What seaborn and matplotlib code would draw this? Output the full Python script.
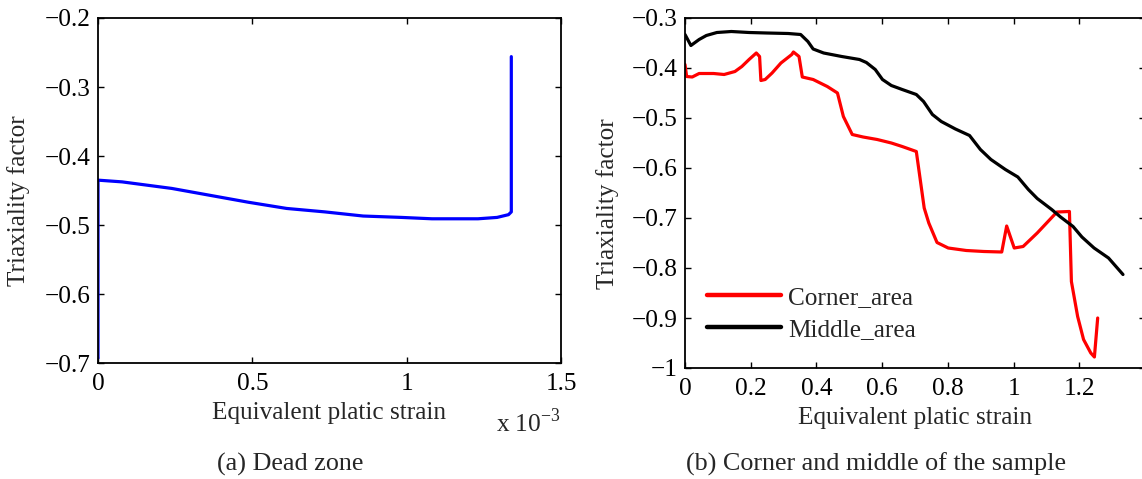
import matplotlib
matplotlib.use("Agg")
import matplotlib.pyplot as plt
from matplotlib.ticker import FuncFormatter, MultipleLocator, FixedLocator
import pandas as pd
import seaborn as sns

# (a) Dead zone -- strain in units of 1e-3
dead_strain = [0.0, 0.0, 0.078, 0.239, 0.363, 0.487, 0.611, 0.735, 0.859,
               0.983, 1.082, 1.231, 1.293, 1.330, 1.339, 1.339]
dead_triax = [-0.693, -0.435, -0.4375, -0.447, -0.457, -0.467, -0.476, -0.481,
              -0.487, -0.489, -0.491, -0.491, -0.489, -0.485, -0.481, -0.256]

# (b) Corner and middle of the sample
corner_strain = [0.0, 0.005, 0.022, 0.043, 0.087, 0.119, 0.152, 0.173, 0.195,
                 0.217, 0.227, 0.231, 0.244, 0.265, 0.292, 0.325, 0.330, 0.347,
                 0.357, 0.390, 0.433, 0.464, 0.482, 0.509, 0.542, 0.585, 0.628,
                 0.661, 0.704, 0.728, 0.742, 0.767, 0.801, 0.856, 0.910, 0.964,
                 0.979, 1.002, 1.029, 1.072, 1.132, 1.170, 1.176, 1.195, 1.213,
                 1.235, 1.246, 1.256]
corner_triax = [-0.393, -0.417, -0.418, -0.411, -0.411, -0.413, -0.407, -0.397,
                -0.383, -0.370, -0.377, -0.425, -0.423, -0.410, -0.390, -0.373,
                -0.368, -0.377, -0.418, -0.423, -0.437, -0.450, -0.497, -0.533,
                -0.538, -0.543, -0.550, -0.557, -0.567, -0.680, -0.710, -0.749,
                -0.760, -0.765, -0.767, -0.768, -0.716, -0.760, -0.757, -0.730,
                -0.688, -0.687, -0.827, -0.897, -0.943, -0.970, -0.978, -0.900]

middle_strain = [0.0, 0.018, 0.043, 0.065, 0.097, 0.141, 0.195, 0.249, 0.314,
                 0.352, 0.374, 0.390, 0.422, 0.477, 0.531, 0.552, 0.579, 0.601,
                 0.628, 0.661, 0.704, 0.726, 0.753, 0.780, 0.823, 0.866, 0.899,
                 0.931, 0.975, 1.013, 1.045, 1.072, 1.116, 1.143, 1.181, 1.208,
                 1.245, 1.289, 1.333]
middle_triax = [-0.333, -0.355, -0.343, -0.335, -0.329, -0.327, -0.329, -0.330,
                -0.331, -0.333, -0.347, -0.362, -0.370, -0.377, -0.383, -0.389,
                -0.403, -0.423, -0.435, -0.443, -0.453, -0.467, -0.493, -0.507,
                -0.522, -0.535, -0.563, -0.583, -0.603, -0.618, -0.643, -0.661,
                -0.683, -0.698, -0.717, -0.738, -0.760, -0.780, -0.813]

series_names = ["Corner_area", "Middle_area"]
series_colors = ["#ff0000", "#000000"]
strain_ticks_b = [0, 0.2, 0.4, 0.6, 0.8, 1.0, 1.2]
captions = ["(a) Dead zone", "(b) Corner and middle of the sample"]
xlabel = "Equivalent platic strain"
ylabel = "Triaxiality factor"

FS = 18.2

sns.set_theme(style="white")
plt.rcParams.update({
    "font.family": ["Liberation Serif", "DejaVu Serif"],
    "mathtext.fontset": "custom",
    "mathtext.rm": "Liberation Serif",
    "font.size": FS,
    "axes.edgecolor": "black",
    "axes.linewidth": 1.3,
    "xtick.direction": "in",
    "ytick.direction": "in",
    "xtick.top": True,
    "ytick.right": True,
    "xtick.bottom": True,
    "ytick.left": True,
    "xtick.major.size": 4,
    "ytick.major.size": 4,
    "xtick.major.width": 1.0,
    "ytick.major.width": 1.0,
    "xtick.color": "black",
    "ytick.color": "black",
    "axes.unicode_minus": True,
})

W, H = 1142, 479
fig = plt.figure(figsize=(W / 100, H / 100), dpi=100)

def px_axes(x0, x1, y0, y1):
    return fig.add_axes([x0 / W, 1 - y1 / H, (x1 - x0) / W, (y1 - y0) / H])

ax1 = px_axes(98, 561, 18, 363)
ax2 = px_axes(685, 1145, 18, 368)

fmt = FuncFormatter(lambda v, p: ("%g" % round(v, 6)).replace("-", "\u2212"))

# Panel (a)
df_dead = pd.DataFrame({"strain": dead_strain, "triax": dead_triax})
sns.lineplot(data=df_dead, x="strain", y="triax", sort=False, estimator=None,
             color="#0000ff", linewidth=2.3, ax=ax1)
ax1.set_xlim(0, 1.5)
ax1.set_ylim(-0.7, -0.2)
ax1.xaxis.set_major_locator(MultipleLocator(0.5))
ax1.yaxis.set_major_locator(MultipleLocator(0.1))

# Panel (b)
df_b = pd.concat([
    pd.DataFrame({"strain": corner_strain, "triax": corner_triax,
                  "zone": series_names[0]}),
    pd.DataFrame({"strain": middle_strain, "triax": middle_triax,
                  "zone": series_names[1]}),
])
sns.lineplot(data=df_b, x="strain", y="triax", hue="zone", sort=False,
             estimator=None, palette=dict(zip(series_names, series_colors)),
             linewidth=2.3, ax=ax2)
ax2.set_xlim(0, 1.4)
ax2.set_ylim(-1.0, -0.3)
ax2.xaxis.set_major_locator(FixedLocator(strain_ticks_b))
ax2.yaxis.set_major_locator(MultipleLocator(0.1))

leg = ax2.legend(loc="upper left", bbox_to_anchor=(0.01, 0.285), frameon=False,
                 handlelength=2.9, handletextpad=0.3, labelspacing=0.38,
                 borderaxespad=0.3, fontsize=FS)
for h in leg.get_lines():
    h.set_linewidth(3.2)

for ax in (ax1, ax2):
    ax.xaxis.set_major_formatter(fmt)
    ax.yaxis.set_major_formatter(fmt)
    ax.tick_params(axis="x", pad=7, labelsize=FS)
    ax.tick_params(axis="y", pad=5, labelsize=FS)
    for s in ax.spines.values():
        s.set_visible(True)
        s.set_color("black")
    ax.set_xlabel(xlabel, fontsize=FS)
    ax.set_ylabel(ylabel, fontsize=FS)
    ax.grid(False)

ax1.xaxis.set_label_coords(0.5, -0.145)
ax1.yaxis.set_label_coords(-0.171, 0.47)
ax2.xaxis.set_label_coords(0.5, -0.143)
ax2.yaxis.set_label_coords(-0.168, 0.47)
for ax in (ax1, ax2):
    ax.xaxis.label.set_va("center")
    ax.yaxis.label.set_va("center")

# axis multiplier for panel (a)
fig.text(561 / W, 1 - 432 / H, r"x 10$^{-3}$", ha="right", va="baseline",
         fontsize=FS)

# sub-figure captions
fig.text(290 / W, 1 - 464 / H, captions[0], ha="center", va="center",
         fontsize=18.8)
fig.text(876 / W, 1 - 464 / H, captions[1], ha="center", va="center",
         fontsize=18.8)

fig.savefig("out.png", dpi=100)
